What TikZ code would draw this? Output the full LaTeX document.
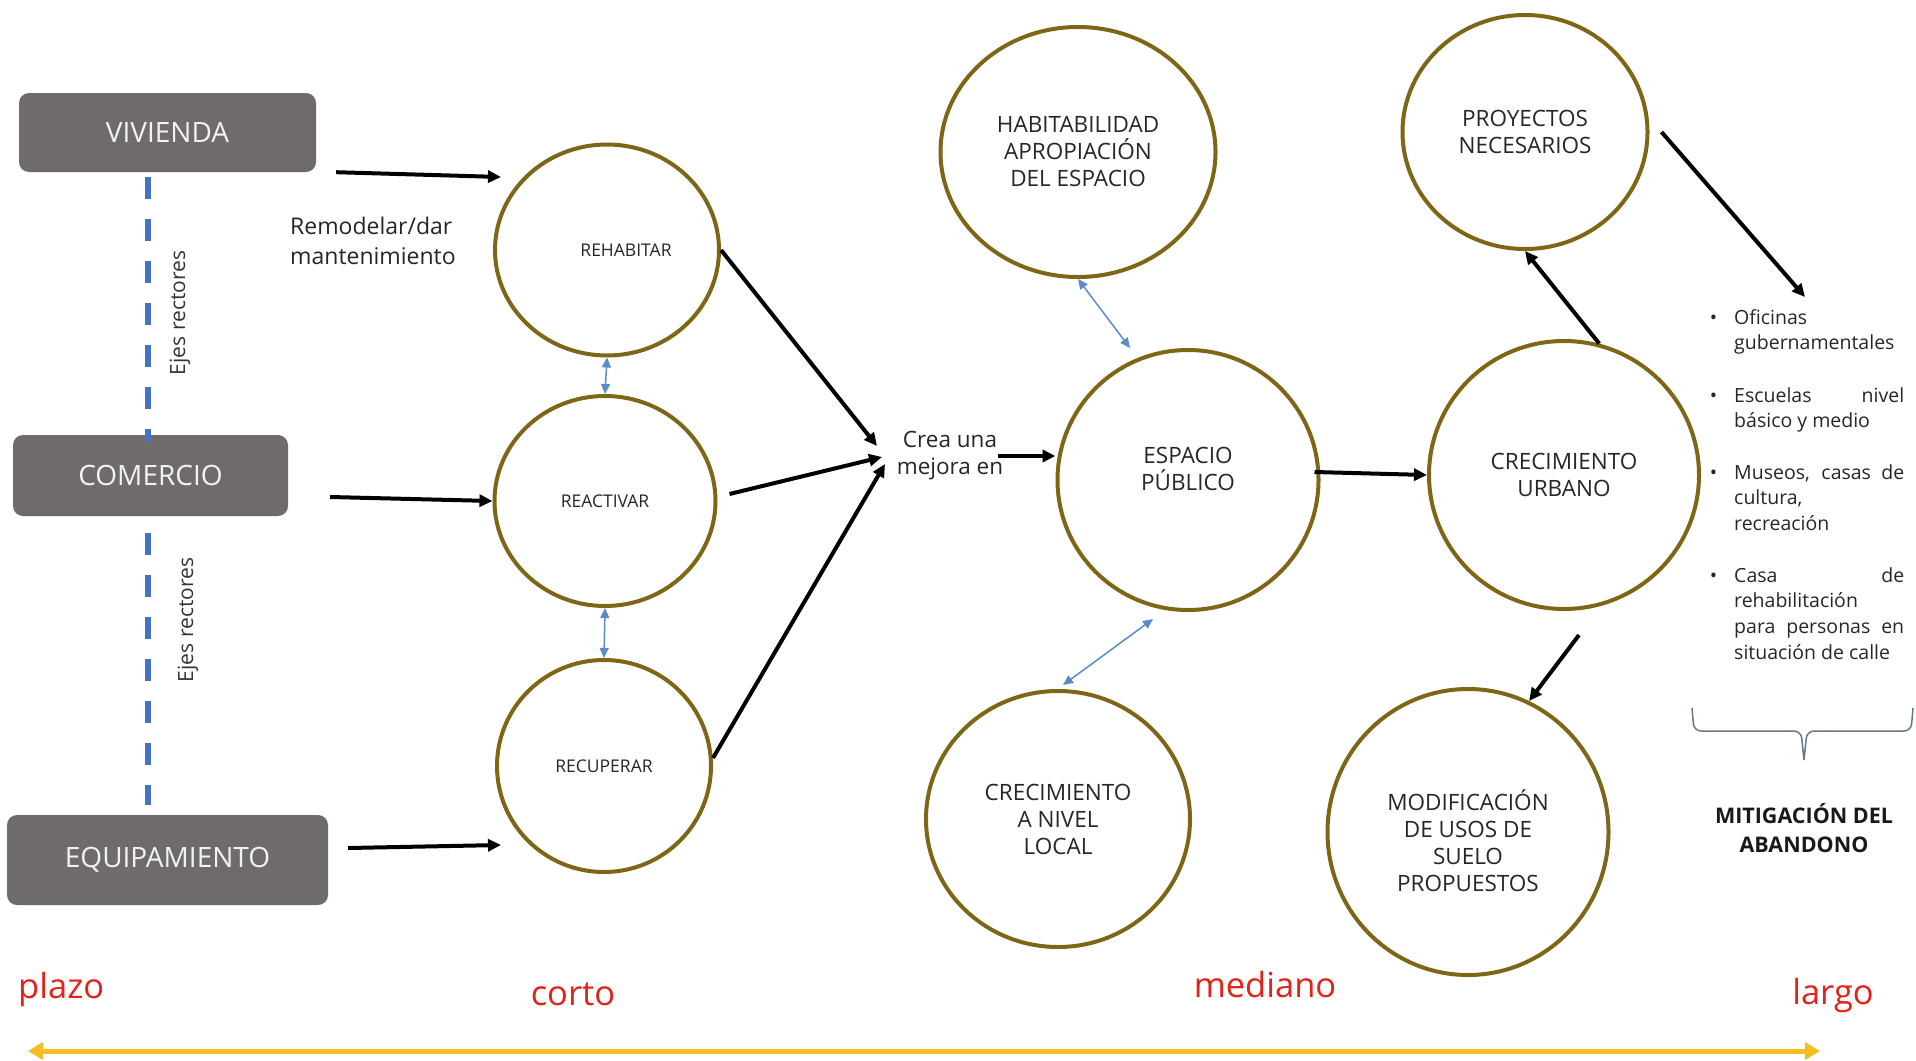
\documentclass[tikz,border=0pt]{standalone}
\usepackage{fontspec}
\setmainfont{Open Sans}
\usetikzlibrary{arrows.meta,shapes.geometric}

\definecolor{cajagris}{HTML}{6F6B6B}
\definecolor{cajatexto}{HTML}{F2F2F2}
\definecolor{olivo}{HTML}{7E6616}
\definecolor{ejeazul}{HTML}{4472C4}
\definecolor{flechaazul}{HTML}{5B8BCB}
\definecolor{rojoplazo}{HTML}{E2231A}
\definecolor{oro}{HTML}{F5BD1F}
\definecolor{llavegris}{HTML}{67768C}

\newcommand{\bul}{\llap{\textbullet\hspace{17pt}}}

\begin{document}
\begin{tikzpicture}[x=1pt,y=-1pt,
  caja/.style={fill=cajagris,rounded corners=10pt,text=cajatexto,inner sep=0pt,
    font=\fontsize{28}{34}\selectfont},
  aro/.style={ellipse,draw=olivo,line width=4pt,inner sep=0pt,align=center,
    text=black!85,font=\fontsize{22.5}{27}\selectfont},
  arochico/.style={aro,font=\fontsize{17.5}{21}\selectfont},
  nota/.style={inner sep=0pt,text=black!85,font=\fontsize{22.5}{27}\selectfont},
  item/.style={inner sep=0pt,text width=170pt,align=justify,text=black!85,
    font=\fontsize{19.5}{25.7}\selectfont},
  flecha/.style={-{Triangle[length=13pt,width=12pt]},line width=4pt},
  doble/.style={{Triangle[length=10pt,width=9pt]}-{Triangle[length=10pt,width=9pt]},
    line width=1.5pt,draw=flechaazul},
  eje/.style={ejeazul,line width=6pt,dash pattern=on 22pt off 20pt},
  ejetexto/.style={rotate=90,inner sep=0pt,text=black!80,font=\fontsize{21}{25}\selectfont},
  plazo/.style={inner sep=0pt,text=rojoplazo,font=\fontsize{34.5}{40}\selectfont},
  linea/.style={oro,line width=5pt,{Triangle[length=15pt,width=17pt]}-{Triangle[length=15pt,width=17pt]}}]
  \useasboundingbox (0,0) rectangle (1916,1060);

  % ejes rectores
  \node[caja,minimum width=297pt,minimum height=79pt] (viv) at (167.5,132.5) {VIVIENDA};
  \node[caja,minimum width=275pt,minimum height=81pt] (com) at (150.5,475.5) {COMERCIO};
  \node[caja,minimum width=321pt,minimum height=90pt] (equ) at (167.5,860) {EQUIPAMIENTO};
  \draw[eje] ([xshift=-19.5pt,yshift=-5pt]viv.south) -- ([xshift=-2.5pt,yshift=-7pt]com.north);
  \draw[eje] ([xshift=-2.5pt,yshift=-17pt]com.south) -- ([xshift=-19.5pt,yshift=10pt]equ.north);
  \node[ejetexto] (ej1) at (180,313) {Ejes rectores};
  \node[ejetexto] (ej2) at (188,620) {Ejes rectores};

  % corto plazo
  \node[arochico,minimum width=224pt,minimum height=211pt] (reh) at (607,250) {\hspace*{38pt}REHABITAR};
  \node[arochico,minimum width=221pt,minimum height=210pt] (rea) at (605,501) {REACTIVAR};
  \node[arochico,minimum width=214pt,minimum height=212pt] (rec) at (604,766) {RECUPERAR};
  \node[nota,anchor=west,align=left,font=\fontsize{23}{30.5}\selectfont] (remo) at (290,241) {Remodelar/dar\\mantenimiento};
  \draw[flecha] ([xshift=20pt]viv.south east) -- ([xshift=8pt,yshift=73pt]reh.west);
  \draw[flecha] ([xshift=42pt,yshift=-21.5pt]com.east) -- (rea.west);
  \draw[flecha] ([xshift=20pt,yshift=12pt]equ.east) -- ([xshift=6pt,yshift=-79pt]rec.west);
  \draw[doble] (reh.south) -- (rea.north);
  \draw[doble] (rea.south) -- (rec.north);

  % mediano plazo
  \node[nota,align=center] (crea) at (950,456) {Crea una\\mejora en};
  \coordinate (c1) at (877,446);
  \coordinate (c2) at (882,457);
  \coordinate (c3) at (885,464);
  \draw[flecha] (reh.east) -- (c1);
  \draw[flecha] ([xshift=12pt,yshift=7pt]rea.east) -- (c2);
  \draw[flecha] ([yshift=8pt]rec.east) -- (c3);
  \node[aro,minimum width=275pt,minimum height=250pt] (hab) at (1078,152) {HABITABILIDAD\\APROPIACIÓN\\DEL ESPACIO};
  \node[aro,minimum width=261pt,minimum height=260pt,text depth=22pt] (esp) at (1188,480) {ESPACIO\\PÚBLICO};
  \node[aro,minimum width=264pt,minimum height=256pt] (loc) at (1058,819) {CRECIMIENTO\\A NIVEL\\LOCAL};
  \draw[flecha] ([xshift=-5pt]crea.east) -- (crea.east -| esp.west);
  \draw[doble] (hab.south) -- ([xshift=-58pt]esp.north);
  \draw[doble] ([xshift=5pt,yshift=4pt]loc.north) -- ([xshift=-35pt,yshift=-7pt]esp.south);

  % largo plazo
  \node[aro,minimum width=245pt,minimum height=234pt] (pro) at (1525,132) {PROYECTOS\\NECESARIOS};
  \node[aro,minimum width=270pt,minimum height=268pt] (cru) at (1564,475) {CRECIMIENTO\\URBANO};
  \node[aro,minimum width=281pt,minimum height=286pt,text height=120pt] (mod) at (1468,832) {MODIFICACIÓN\\DE USOS DE\\SUELO\\PROPUESTOS};
  \draw[flecha] ([xshift=-6pt,yshift=8pt]esp.east) -- (cru.west);
  \draw[flecha] (cru.75) -- (pro.south);
  \draw[flecha] ([xshift=15pt,yshift=-24pt]cru.south) -- (mod.65);
  \coordinate (lst) at (1805,297);
  \draw[flecha] ([xshift=12pt]pro.east) -- (lst);

  % lista
  \node[item,anchor=base west] (it1) at (1734,324) {\bul Oficinas\\gubernamentales};
  \node[item,anchor=base west] (it2) at (1734,402) {\bul Escuelas nivel\linebreak básico y medio};
  \node[item,anchor=base west] (it3) at (1734,479) {\bul Museos, casas de\linebreak cultura,\\recreación};
  \node[item,anchor=base west] (it4) at (1734,582) {\bul Casa de\linebreak rehabilitación\\para personas en\linebreak situación de calle};
  \draw[llavegris,line width=1.5pt,rounded corners=7pt] (1692,708) -- (1694,731) -- (1801,731) -- (1804,760);
  \draw[llavegris,line width=1.5pt,rounded corners=7pt] (1913,708) -- (1911,731) -- (1807,731) -- (1804,760);
  \node[nota,align=center,text=black!90,font=\bfseries\fontsize{21.5}{29}\selectfont] (miti) at (1804,828) {MITIGACIÓN DEL\\ABANDONO};

  % plazo
  \node[plazo,anchor=west] (pla) at (18,990) {plazo};
  \node[plazo] (cor) at (573,994) {corto};
  \node[plazo] (med) at (1265,985) {mediano};
  \node[plazo] (lar) at (1833,996) {largo};
  \coordinate (ini) at (28,1051);
  \coordinate (fin) at (1820,1051);
  \draw[linea] (ini) -- (fin);
\end{tikzpicture}
\end{document}
